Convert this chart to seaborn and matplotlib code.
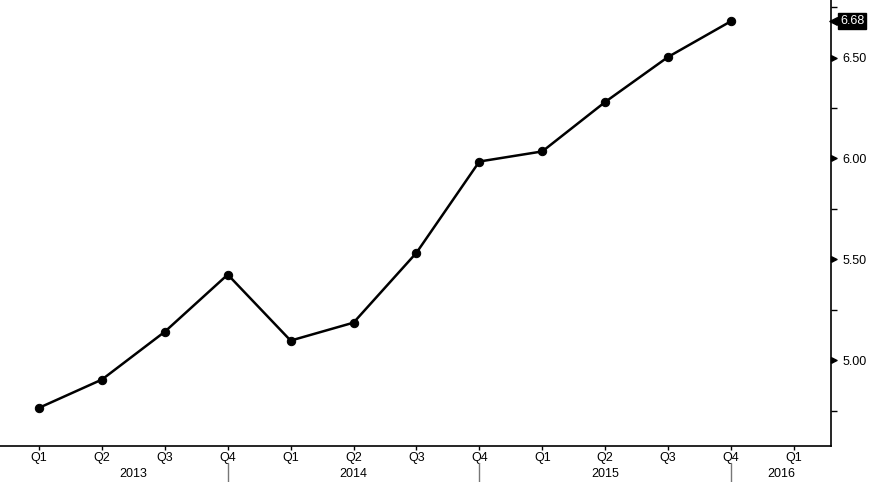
import pandas as pd
import matplotlib
matplotlib.use("Agg")
import matplotlib.pyplot as plt
import matplotlib.transforms as mtransforms
from matplotlib.path import Path
from matplotlib.markers import MarkerStyle
from matplotlib.ticker import MultipleLocator, FixedLocator
import seaborn as sns
sns.set_theme(style="white")
plt.rcParams['font.family'] = ['Liberation Sans', 'DejaVu Sans']

# quarterly series, 2013 Q1 .. 2015 Q4
quarters = ["Q1", "Q2", "Q3", "Q4"] * 3
years = ["2013"] * 4 + ["2014"] * 4 + ["2015"] * 4
values = [4.765, 4.905, 5.142, 5.425, 5.098, 5.187,
          5.533, 5.985, 6.035, 6.280, 6.503, 6.68]

# axis labels (one extra quarter shown after the data)
tick_labels = quarters + ["Q1"]
year_labels = ["2013", "2014", "2015", "2016"]
year_breaks = [3, 7, 11]

df = pd.DataFrame({"pos": range(len(values)), "value": values,
                   "quarter": quarters, "year": years})

fig = plt.figure(figsize=(8.69, 4.82), dpi=100)
ax = fig.add_axes([0.0, 0.0747, 0.9563, 0.9253])

sns.lineplot(data=df, x="pos", y="value", ax=ax, color="black",
             linewidth=1.8, marker="o", markersize=6,
             markeredgecolor="black", markerfacecolor="black")

ax.set_xlim(-0.62, 12.59)
ax.set_ylim(4.576, 6.785)
ax.set_xlabel("")
ax.set_ylabel("")

# spines: bottom and right only
for side in ["top", "left"]:
    ax.spines[side].set_visible(False)
for side in ["bottom", "right"]:
    ax.spines[side].set_color("black")
    ax.spines[side].set_linewidth(1.2)

# small triangles pointing away from the spine
caret_right = MarkerStyle(Path([(0, -0.5), (1, 0), (0, 0.5), (0, -0.5)]))
caret_left = MarkerStyle(Path([(0, -0.5), (-1, 0), (0, 0.5), (0, -0.5)]))

# y axis on the right
ax.yaxis.tick_right()
ax.yaxis.set_major_locator(MultipleLocator(0.5))
ax.yaxis.set_minor_locator(MultipleLocator(0.25))
ax.yaxis.set_major_formatter(lambda v, p: f"{v:.2f}")
ax.tick_params(axis="y", which="major", direction="out", length=5,
               width=1, labelsize=9, pad=3, colors="black", right=True)
ax.tick_params(axis="y", which="minor", direction="out", length=4,
               width=1, right=True, color="black")
for t in ax.yaxis.get_major_ticks():
    t.tick2line.set_marker(caret_right)
    t.tick2line.set_markersize(8)
    t.tick2line.set_markerfacecolor("black")

# x axis: quarter ticks
ax.xaxis.set_major_locator(FixedLocator(range(len(tick_labels))))
ax.set_xticklabels(tick_labels)
ax.tick_params(axis="x", which="major", direction="out", length=3,
               width=1, labelsize=9, pad=1, colors="black", bottom=True)

# year labels and separators below the quarter labels
trans = mtransforms.blended_transform_factory(ax.transData, ax.transAxes)
edges = [0] + year_breaks + [12.59]
for i, yr in enumerate(year_labels):
    mid = (edges[i] + edges[i + 1]) / 2
    ax.text(mid, -0.063, yr, transform=trans, ha="center", va="center",
            fontsize=9, color="black")
for b in year_breaks:
    ax.plot([b, b], [-0.038, -0.085], transform=trans, color="#777777",
            linewidth=1, clip_on=False)

# last value tag
ytrans = mtransforms.blended_transform_factory(ax.transAxes, ax.transData)
ax.text(1.0253, values[-1], f"{values[-1]:.2f}", transform=ytrans,
        ha="center", va="center", fontsize=9, color="white",
        bbox=dict(boxstyle="square,pad=0.15", fc="black", ec="black"))
ax.plot([1.0072], [values[-1]], transform=ytrans, marker=caret_left,
        markersize=11, color="black", clip_on=False)

plt.savefig("out.png", dpi=100)
